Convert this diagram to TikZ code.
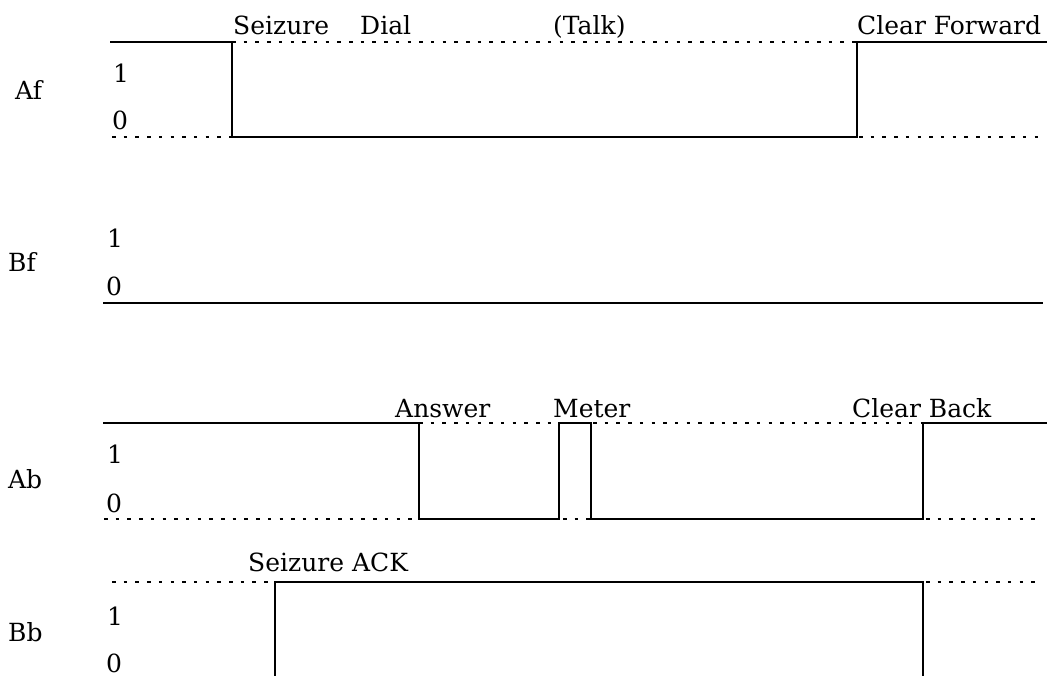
\documentclass[tikz,border=0pt]{standalone}
\usepackage{fontspec}
\setmainfont{DejaVu Serif}
\begin{document}
\begin{tikzpicture}[x=1pt,y=-1pt,
  sig/.style={line width=1.7pt},
  dots/.style={line width=1.7pt, dash pattern=on 3.5pt off 8.2pt},
  lbl/.style={inner sep=0pt, anchor=base west, font=\fontsize{25}{28}\selectfont}]
\useasboundingbox (0,0) rectangle (1049,676);
% ---------- Af ----------
\node[lbl] (afn) at (15,100) {Af};
\node[lbl] (af1) at (113,83) {1};
\node[lbl] (af0) at (112,130) {0};
\draw[sig] (110,42) -- (232,42) -- (232,137) -- (857,137) -- (857,42) -- (1047,42);
\draw[dots] (112,137) -- (232,137);
\draw[dots] (232,42) -- (857,42);
\draw[dots] (859,137) -- (1042,137);
\node[lbl] (seiz) at (233,35) {Seizure};
\node[lbl] (dial) at (360,35) {Dial};
\node[lbl] (talk) at (553,35) {(Talk)};
\node[lbl] (clf) at (857,35) {Clear Forward};
% ---------- Bf ----------
\node[lbl] (bfn) at (8,272) {Bf};
\node[lbl] (bf1) at (107,248) {1};
\node[lbl] (bf0) at (106,295) {0};
\draw[sig] (103,303) -- (1043,303);
% ---------- Ab ----------
\node[lbl] (abn) at (8,488) {Ab};
\node[lbl] (ab1) at (107,463) {1};
\node[lbl] (ab0) at (106,512) {0};
\draw[sig] (103,423) -- (419,423) -- (419,519) -- (559,519) -- (559,423) -- (591,423)
  -- (591,519) -- (923,519) -- (923,423) -- (1047,423);
\draw[dots] (104,519) -- (419,519);
\draw[dots] (419,423) -- (559,423);
\draw[dots] (563,519) -- (591,519);
\draw[dots] (593,423) -- (923,423);
\draw[dots] (926,519) -- (1042,519);
\node[lbl] (ans) at (395,417) {Answer};
\node[lbl] (met) at (553,417) {Meter};
\node[lbl] (clb) at (852,417) {Clear Back};
% ---------- Bb ----------
\node[lbl] (bbn) at (8,641) {Bb};
\node[lbl] (bb1) at (107,625) {1};
\node[lbl] (bb0) at (106,672) {0};
\draw[sig] (275,676) -- (275,582) -- (923,582) -- (923,676);
\draw[dots] (112,582) -- (275,582);
\draw[dots] (926,582) -- (1042,582);
\node[lbl] (sack) at (248,571) {Seizure ACK};
\end{tikzpicture}
\end{document}
